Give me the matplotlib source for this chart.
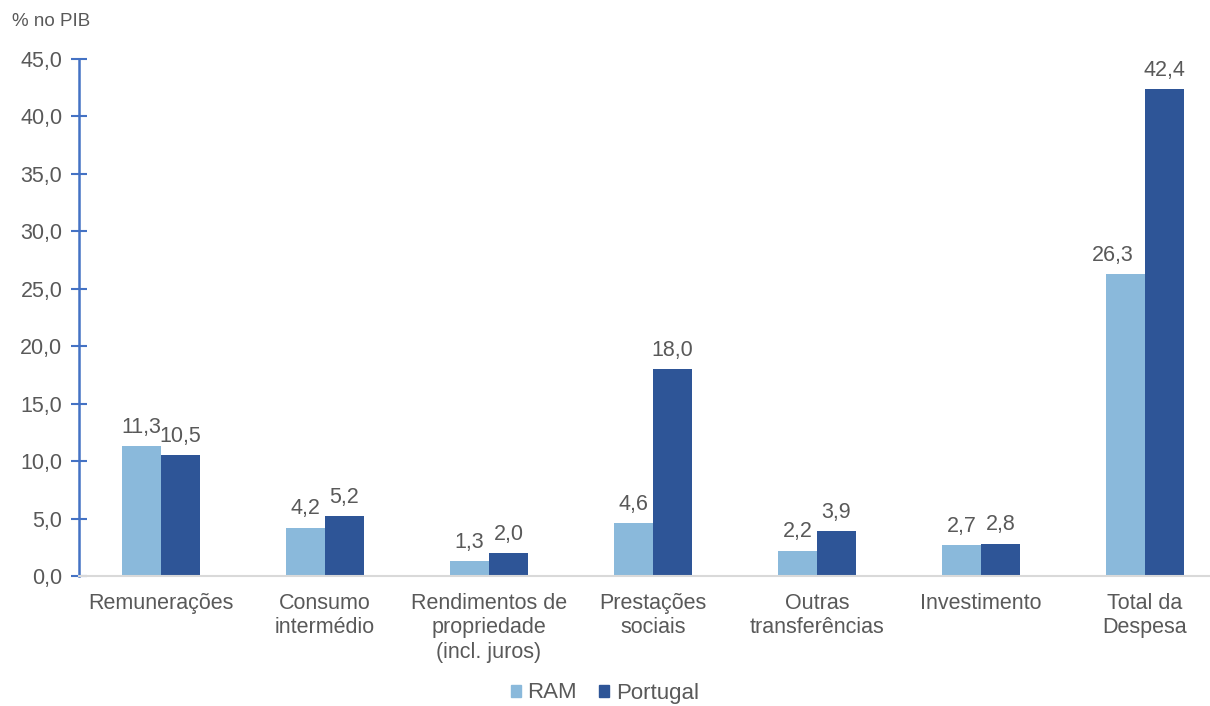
import matplotlib.pyplot as plt
import matplotlib.patches as mpatches
import numpy as np

plt.rcParams.update({
    "font.family": ["Liberation Sans", "DejaVu Sans"],
})

categories = ["Remunerações", "Consumo\nintermédio", "Rendimentos de\npropriedade\n(incl. juros)",
              "Prestações\nsociais", "Outras\ntransferências", "Investimento", "Total da\nDespesa"]
ram = [11.3, 4.2, 1.3, 4.6, 2.2, 2.7, 26.3]
portugal = [10.5, 5.2, 2.0, 18.0, 3.9, 2.8, 42.4]
y_ticks = [0, 5, 10, 15, 20, 25, 30, 35, 40, 45]

C_RAM = "#8AB9DB"
C_PT = "#2E5597"
C_TXT = "#595959"

fig = plt.figure(figsize=(12.10, 7.06), dpi=100)
ax = fig.add_axes([79 / 1210, 1 - 576 / 706, (1210 - 79) / 1210, (576 - 59) / 706])

x = np.arange(len(categories))
w = 0.238
b1 = ax.bar(x - w / 2, ram, w, color=C_RAM, label="RAM")
b2 = ax.bar(x + w / 2, portugal, w, color=C_PT, label="Portugal")

def fmt(v):
    return f"{v:.1f}".replace(".", ",")

# labels sitting against a much taller neighbour get nudged left (like Excel does)
for rect, v, other in zip(b1, ram, portugal):
    dx = -9 if other - v > 5 and v > 10 else 0
    ax.annotate(fmt(v), (rect.get_x() + rect.get_width() / 2, v),
                xytext=(dx, 6), textcoords="offset points",
                ha="center", va="bottom", fontsize=15.5, color=C_TXT)
for rect, v in zip(b2, portugal):
    ax.annotate(fmt(v), (rect.get_x() + rect.get_width() / 2, v),
                xytext=(0, 6), textcoords="offset points",
                ha="center", va="bottom", fontsize=15.5, color=C_TXT)

ax.set_ylim(0, 45)
ax.set_xlim(-0.5, 6.5 - 17 / 164)
ax.set_yticks(y_ticks)
ax.set_yticklabels([fmt(v) for v in y_ticks], fontsize=15.5, color=C_TXT)
ax.set_xticks(x)
ax.set_xticklabels(categories, fontsize=15.5, color=C_TXT, linespacing=1.22)
ax.tick_params(axis="x", length=0, pad=12)
ax.tick_params(axis="y", direction="inout", length=12, width=1.5, color="#4472C4", pad=6)

for s in ("top", "right"):
    ax.spines[s].set_visible(False)
ax.spines["left"].set_color("#4472C4")
ax.spines["left"].set_linewidth(1.8)
ax.spines["bottom"].set_color("#D9D9D9")
ax.spines["bottom"].set_linewidth(1.5)

fig.text(12 / 1210, 1 - 22 / 706, "% no PIB", fontsize=13.5, color=C_TXT, va="center")

handles = [mpatches.Patch(color=C_RAM, label="RAM"), mpatches.Patch(color=C_PT, label="Portugal")]
fig.legend(handles=handles, loc="center", bbox_to_anchor=(0.5, 1 - 693 / 706), ncol=2,
           frameon=False, fontsize=16, handlelength=0.45, handleheight=0.45,
           handletextpad=0.3, columnspacing=1.0, labelcolor=C_TXT)

fig.savefig("out.png", dpi=100)
